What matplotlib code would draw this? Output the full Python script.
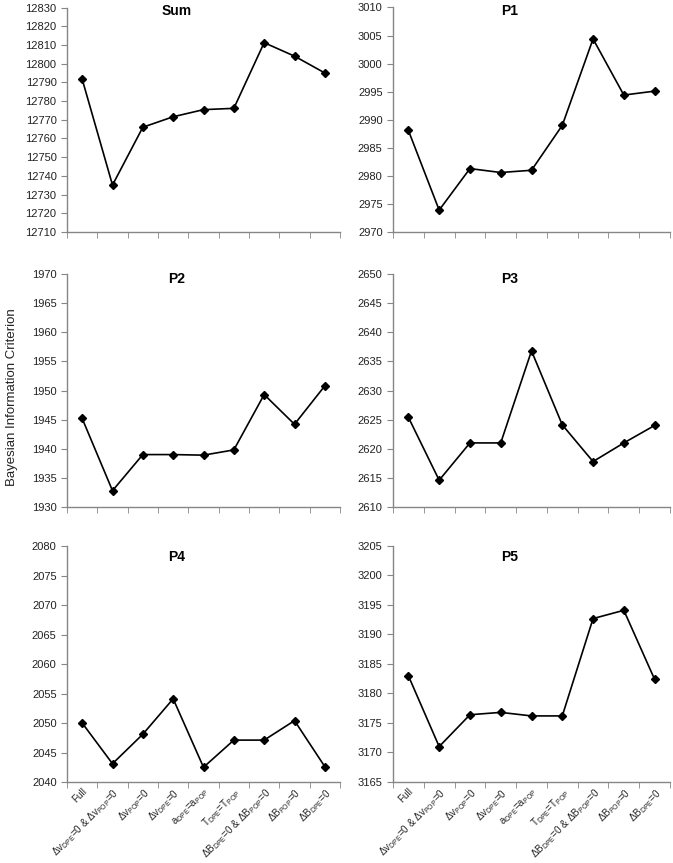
import matplotlib
matplotlib.use("Agg")
import matplotlib.pyplot as plt
import numpy as np

plt.rcParams["font.family"] = ["Liberation Sans", "DejaVu Sans"]
plt.rcParams["mathtext.fontset"] = "custom"
plt.rcParams["mathtext.rm"] = "Liberation Sans"
plt.rcParams["mathtext.it"] = "Liberation Sans:italic"

models = [
    "Full",
    r"Δv$_{\mathrm{DPE}}$=0 & Δv$_{\mathrm{POP}}$=0",
    r"Δv$_{\mathrm{POP}}$=0",
    r"Δv$_{\mathrm{DPE}}$=0",
    r"a$_{\mathrm{DPE}}$=a$_{\mathrm{POP}}$",
    r"T$_{\mathrm{DPE}}$=T$_{\mathrm{POP}}$",
    r"ΔB$_{\mathrm{DPE}}$=0 & ΔB$_{\mathrm{POP}}$=0",
    r"ΔB$_{\mathrm{POP}}$=0",
    r"ΔB$_{\mathrm{DPE}}$=0",
]

bic_sum = [12791.7, 12735.1, 12766.0, 12771.6, 12775.4, 12776.1, 12811.2, 12804.0, 12795.0]
bic_p1 = [2988.1, 2973.9, 2981.3, 2980.6, 2981.0, 2989.0, 3004.4, 2994.4, 2995.1]
bic_p2 = [1945.2, 1932.8, 1939.0, 1939.0, 1938.9, 1939.8, 1949.3, 1944.2, 1950.8]
bic_p3 = [2625.4, 2614.6, 2621.0, 2621.0, 2636.8, 2624.1, 2617.8, 2621.0, 2624.0]
bic_p4 = [2050.0, 2043.1, 2048.1, 2054.1, 2042.5, 2047.1, 2047.1, 2050.4, 2042.6]
bic_p5 = [3183.0, 3171.0, 3176.4, 3176.8, 3176.2, 3176.2, 3192.7, 3194.1, 3182.4]

panels = [
    ("Sum", bic_sum, (12710, 12830, 10)),
    ("P1", bic_p1, (2970, 3010, 5)),
    ("P2", bic_p2, (1930, 1970, 5)),
    ("P3", bic_p3, (2610, 2650, 5)),
    ("P4", bic_p4, (2040, 2080, 5)),
    ("P5", bic_p5, (3165, 3205, 5)),
]

W, H = 673, 863
fig = plt.figure(figsize=(W / 100, H / 100), dpi=100)

# axes boxes in pixels: (left, right, top, bottom)
cols = [(67, 340), (393, 670)]
rows = [(7.5, 232), (274, 507), (546, 782)]
title_y = [0.983, 0.978, 0.953]
title_x = [0.40, 0.42]

axis_color = "#868686"
x = np.arange(len(models))

for i, (name, vals, (lo, hi, step)) in enumerate(panels):
    r, c = divmod(i, 2)
    l, rr = cols[c]
    t, b = rows[r]
    ax = fig.add_axes([l / W, 1 - b / H, (rr - l) / W, (b - t) / H])
    ax.plot(x, vals, color="black", lw=1.2, marker="D", ms=4.5,
            markerfacecolor="black", markeredgecolor="black")
    ax.set_xlim(-0.5, len(models) - 0.5)
    ax.set_ylim(lo, hi)
    ax.set_yticks(np.arange(lo, hi + step / 2, step))
    for s in ["top", "right"]:
        ax.spines[s].set_visible(False)
    for s in ["left", "bottom"]:
        ax.spines[s].set_color(axis_color)
        ax.spines[s].set_linewidth(1.0)
    ax.set_xticks(x)
    ax.set_xticks(np.arange(-0.5, len(models)), minor=True)
    ax.tick_params(axis="x", which="major", length=0, pad=3)
    ax.tick_params(axis="x", which="minor", length=4.5, color=axis_color, direction="out")
    ax.tick_params(axis="y", length=4.5, color=axis_color, direction="out",
                   labelsize=8, labelcolor="#222222", pad=3)
    if r == 2:
        ax.set_xticklabels(models, rotation=45, ha="right", rotation_mode="anchor",
                           fontsize=7.1, color="#222222")
    else:
        ax.set_xticklabels([])
    ax.text(title_x[c], title_y[r], name, transform=ax.transAxes, ha="center",
            va="center", fontsize=10, fontweight="bold")

fig.text(0.018, 0.54, "Bayesian Information Criterion", rotation=90,
         ha="center", va="center", fontsize=9.5, color="#222222")

fig.savefig("out.png", dpi=100)
